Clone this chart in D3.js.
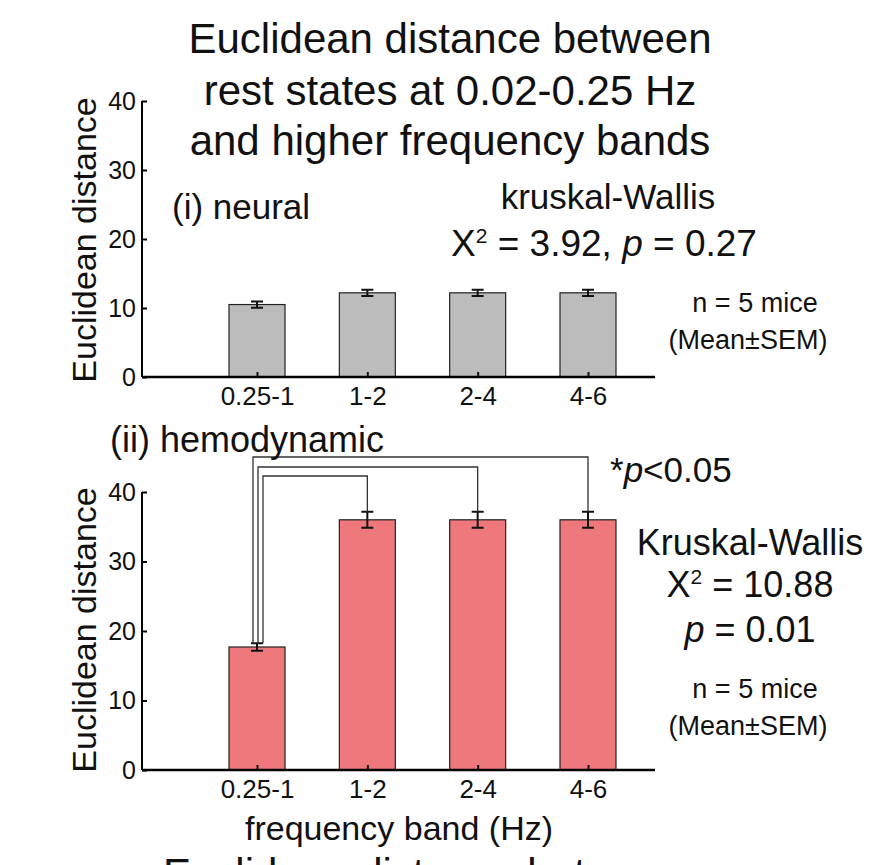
<!DOCTYPE html>
<html><head><meta charset="utf-8">
<script src="https://cdn.jsdelivr.net/npm/d3@7"></script>
<style>body{margin:0;background:#fff}text{font-family:Arial,"Liberation Sans",sans-serif;fill:#111}</style>
</head><body><svg id="c" width="872" height="865"></svg>
<script>
const bands = ['0.25-1', '1-2', '2-4', '4-6'];
const neuralMean = [10.5, 12.2, 12.2, 12.2];
const neuralSem = [0.45, 0.45, 0.45, 0.45];
const hemoMean = [17.7, 36.0, 36.0, 36.0];
const hemoSem = [0.55, 1.15, 1.15, 1.15];
const yTicks = [0, 10, 20, 30, 40];

const svg = d3.select('#c');
const x = d3.scalePoint().domain(bands).range([257, 588]);

function panel(mean, sem, top, bottom, fill) {
  const y = d3.scaleLinear().domain([0, 40]).range([bottom, top]);
  const g = svg.append('g');
  g.selectAll('rect').data(bands).join('rect')
    .attr('x', (d) => x(d) - 28).attr('width', 56)
    .attr('y', (d, i) => y(mean[i])).attr('height', (d, i) => y(0) - y(mean[i]))
    .attr('fill', fill).attr('stroke', '#222').attr('stroke-width', 1.2);
  bands.forEach((b, i) => {
    const cx = x(b);
    const t = y(mean[i] + sem[i]), bt = y(mean[i] - sem[i]);
    g.append('path').attr('d', `M${cx},${t}V${bt}M${cx - 6},${t}H${cx + 6}M${cx - 6},${bt}H${cx + 6}`)
      .attr('stroke', '#111').attr('stroke-width', 2).attr('fill', 'none');
  });
  const ya = g.append('g').attr('transform', 'translate(142,0)')
    .call(d3.axisLeft(y).tickValues(yTicks).tickSize(5).tickPadding(1));
  ya.select('.domain').attr('d', `M0,${top}V${bottom}`).attr('stroke-width', 2);
  ya.selectAll('line').attr('x2', 5).attr('stroke-width', 2);
  ya.selectAll('text').style('font-size', '25px');
  const xa = g.append('g').attr('transform', `translate(0,${bottom})`)
    .call(d3.axisBottom(x).tickSize(0).tickPadding(10));
  xa.select('.domain').attr('d', 'M142,0H655').attr('stroke-width', 2.5);
  xa.selectAll('text').style('font-size', '26px');
  xa.selectAll('.tick').append('line').attr('y1', 0).attr('y2', -5).attr('stroke', '#111').attr('stroke-width', 2);
  return y;
}

panel(neuralMean, neuralSem, 101, 377, '#bdbcbc');
const yb = panel(hemoMean, hemoSem, 492, 770, '#ef787c');

// significance brackets from first bar to the others
const c0 = x(bands[0]);
[[3, 457, -4], [2, 467, 1], [1, 476, 6]].forEach(([j, ly, dx]) => {
  const cj = x(bands[j]);
  const start = yb(hemoMean[0] + hemoSem[0]);
  const end = yb(hemoMean[j] + hemoSem[j]);
  svg.append('path').attr('d', `M${c0 + dx},${start}V${ly}H${cj}V${end}`)
    .attr('fill', 'none').attr('stroke', '#333').attr('stroke-width', 1.3);
});

function txt(s, xx, yy, size, anchor) {
  return svg.append('text').attr('x', xx).attr('y', yy).attr('text-anchor', anchor || 'middle')
    .style('font-size', size + 'px').text(s);
}
txt('Euclidean distance between', 450, 53, 42);
txt('rest states at 0.02-0.25 Hz', 450, 105, 42);
txt('and higher frequency bands', 450, 155, 42);
txt('(i) neural', 172, 219, 35, 'start');
txt('kruskal-Wallis', 608, 209, 35);
const t1 = txt('', 604, 256, 37);
t1.append('tspan').text('X');
t1.append('tspan').attr('dy', -13).style('font-size', '21px').text('2');
t1.append('tspan').attr('dy', 13).text(' = 3.92, ');
t1.append('tspan').style('font-style', 'italic').text('p');
t1.append('tspan').text(' = 0.27');
txt('n = 5 mice', 755, 312, 27);
txt('(Mean±SEM)', 748, 349, 27);

txt('(ii) hemodynamic', 110, 452, 36, 'start');
const t2 = txt('', 610, 482, 35, 'start');
t2.append('tspan').text('*');
t2.append('tspan').style('font-style', 'italic').text('p');
t2.append('tspan').text('<0.05');
txt('Kruskal-Wallis', 750, 555, 36);
const t3 = txt('', 750, 597, 36);
t3.append('tspan').text('X');
t3.append('tspan').attr('dy', -13).style('font-size', '21px').text('2');
t3.append('tspan').attr('dy', 13).text(' = 10.88');
const t4 = txt('', 750, 642, 36);
t4.append('tspan').style('font-style', 'italic').text('p');
t4.append('tspan').text(' = 0.01');
txt('n = 5 mice', 755, 698, 27);
txt('(Mean±SEM)', 748, 735, 27);

txt('frequency band (Hz)', 399, 840, 34);
txt('Euclidean distance between', 163, 888, 42, 'start');

[240, 630].forEach((cy) => {
  svg.append('text').attr('transform', `translate(96,${cy}) rotate(-90)`).attr('text-anchor', 'middle')
    .style('font-size', '34px').text('Euclidean distance');
});
</script></body></html>
